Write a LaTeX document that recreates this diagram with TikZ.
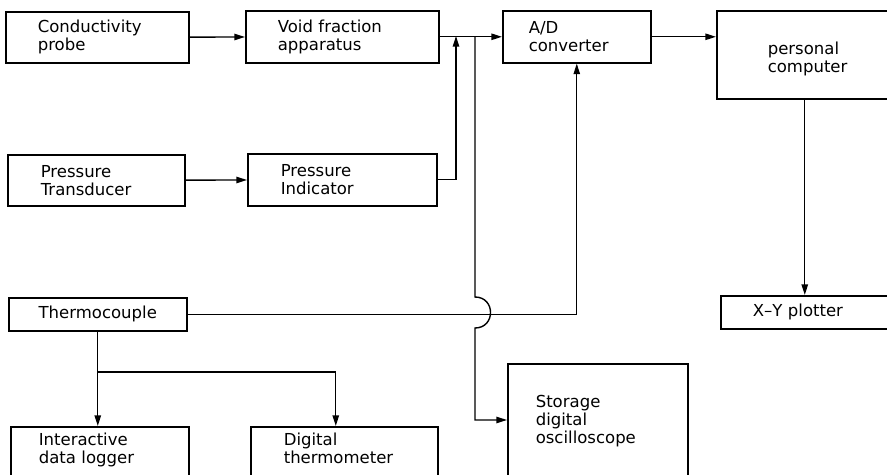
\documentclass[tikz,border=0pt]{standalone}
\usepackage{fontspec}
\newfontfamily\plotfont{DejaVu Sans}
\usetikzlibrary{arrows.meta}

\begin{document}
\begin{tikzpicture}[x=0.02cm,y=-0.02cm,
  every node/.style={font=\plotfont\fontsize{9.4}{10.4}\selectfont},
  blk/.style={draw,line width=.9pt,anchor=north west,align=left,inner xsep=.6cm,inner ysep=.1cm},
  arr/.style={line width=.8pt,-{Triangle[length=6pt,width=3.6pt]}}]
\useasboundingbox (0,0) rectangle (887,474);
\clip (0,0) rectangle (887,474);
\node[blk,text width=2.38cm,inner xsep=.64cm,minimum height=1.02cm] (probe) at (5,11) {Conductivity\\probe};
\node[blk,text width=2.58cm,inner xsep=.64cm,minimum height=1.04cm] (void) at (245,10) {Void fraction\\apparatus};
\node[blk,text width=1.92cm,inner xsep=.52cm,minimum height=1.04cm] (adc) at (502,10) {A/D\\converter};
\node[blk,text width=1.48cm,inner xsep=1.02cm,minimum height=1.76cm,text height=.43cm] (pc) at (716,10) {personal\\computer};
\node[blk,text width=2.22cm,inner xsep=.66cm,minimum height=1.02cm] (transducer) at (7,154) {Pressure\\Transducer};
\node[blk,text width=2.46cm,inner xsep=.66cm,minimum height=1.04cm] (indicator) at (247,153) {Pressure\\Indicator};
\node[blk,align=center,text width=2.4cm,inner xsep=.58cm,minimum height=.66cm] (thermo) at (8,297) {Thermocouple};
\node[blk,text width=2.32cm,inner xsep=.64cm,minimum height=.66cm] (plotter) at (720,295) {X\textendash Y plotter};
\node[blk,text width=2.44cm,inner xsep=.56cm,inner ysep=.12cm,text depth=1.2cm] (logger) at (10,426) {Interactive\\data logger};
\node[blk,text width=2.42cm,inner xsep=.66cm,inner ysep=.12cm,text depth=1.2cm] (dtherm) at (250,426) {Digital\\thermometer};
\node[blk,text width=2.48cm,inner xsep=.56cm,inner ysep=.62cm,text depth=1.2cm] (scope) at (507,363) {Storage\\digital\\oscilloscope};
\coordinate (join) at (456,36);
\coordinate (tap) at (475,36);
\coordinate (branch) at (thermo.south |- 0,372);
\draw[arr] (probe) -- (void);
\draw[arr] (void) -- (adc);
\draw[arr] (adc.east) -- (adc.east -| pc.west);
\draw[arr] (pc.south) -- (pc.south |- plotter.north);
\draw[arr] (transducer) -- (indicator);
\draw[arr] (indicator.east) -| (join);
\draw[arr] (tap) -- (475,297) .. controls (495.7,297) and (495.7,328) .. (475,328) |- ([yshift=-1.14cm]scope.north west);
\draw[arr] (thermo.east) -| (adc.south);
\draw[arr] (thermo.south) -- (thermo.south |- logger.north);
\draw[arr] (branch) -| ([xshift=-.17cm]dtherm.north);
\end{tikzpicture}
\end{document}
